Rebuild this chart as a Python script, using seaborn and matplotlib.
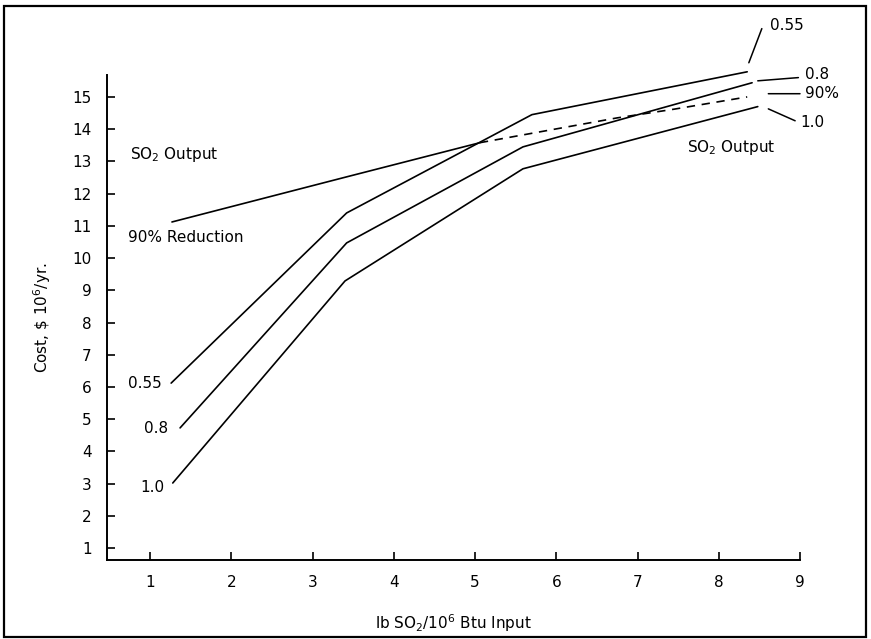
import matplotlib
matplotlib.use("Agg")
import matplotlib.pyplot as plt
import seaborn as sns
from matplotlib.patches import Rectangle


# Curves (x: lb SO2 / 10^6 Btu input, y: cost $10^6/yr)
x_055 = [1.26, 3.42, 5.70, 8.35]
y_055 = [6.12, 11.40, 14.45, 15.78]

x_08 = [1.37, 3.42, 5.59, 8.41]
y_08 = [4.73, 10.47, 13.45, 15.44]

x_10 = [1.28, 3.40, 5.59, 8.48]
y_10 = [3.02, 9.29, 12.77, 14.70]

# 90 % reduction: solid part, then dashed part
x_90 = [1.27, 3.42, 5.06]
y_90 = [11.12, 12.52, 13.58]
x_90d = [5.06, 6.75, 7.45, 8.35]
y_90d = [13.58, 14.35, 14.62, 15.00]

x_ticks = list(range(1, 10))
y_ticks = list(range(1, 16))


sns.set_theme(style="ticks", rc={
    "xtick.direction": "in",
    "ytick.direction": "in",
    "axes.linewidth": 1.4,
    "xtick.major.width": 1.2,
    "ytick.major.width": 1.2,
    "axes.edgecolor": "black",
    "xtick.color": "black",
    "ytick.color": "black",
    "text.color": "black",
    "axes.labelcolor": "black",
})
plt.rcParams["font.family"] = ["DejaVu Sans"]

fig = plt.figure(figsize=(8.71, 6.39), dpi=100)
ax = fig.add_axes([0.1228, 0.1236, 0.7957, 0.759])

lw = 1.2
for xs, ys in [(x_055, y_055), (x_08, y_08), (x_10, y_10), (x_90, y_90)]:
    sns.lineplot(x=xs, y=ys, color="black", lw=lw, ax=ax, sort=False, clip_on=False)
sns.lineplot(x=x_90d, y=y_90d, color="black", lw=lw, ax=ax, sort=False,
             clip_on=False, linestyle=(0, (5, 4)))

ax.set_xlim(0.47, 9.0)
ax.set_ylim(0.63, 15.68)
ax.set_xticks(x_ticks)
ax.set_yticks(y_ticks)
ax.tick_params(axis="both", labelsize=11, length=6, pad=11)
sns.despine(ax=ax)

ax.set_xlabel("lb SO$_2$/10$^6$ Btu Input", fontsize=11, labelpad=16)
ax.set_ylabel("Cost, \\$ 10$^6$/yr.", fontsize=11, labelpad=14)

# left-side curve labels
fs = 11
ax.text(1.15, 6.12, "0.55", ha="right", va="center", fontsize=fs)
ax.text(1.22, 4.70, "0.8", ha="right", va="center", fontsize=fs)
ax.text(1.18, 2.89, "1.0", ha="right", va="center", fontsize=fs)
ax.text(0.75, 13.2, "SO$_2$ Output", ha="left", va="center", fontsize=fs)
ax.text(0.73, 10.63, "90% Reduction", ha="left", va="center", fontsize=fs)
ax.text(7.61, 13.42, "SO$_2$ Output", ha="left", va="center", fontsize=fs)

# right-side labels with leader lines
leader = dict(arrowstyle="-", color="black", lw=1.1, shrinkA=0, shrinkB=0)
ax.annotate("", xy=(8.37, 16.06), xytext=(8.53, 17.12), arrowprops=leader,
            annotation_clip=False)
ax.text(8.63, 17.21, "0.55", ha="left", va="center", fontsize=fs, clip_on=False)
ax.annotate("", xy=(8.48, 15.50), xytext=(8.98, 15.60), arrowprops=leader,
            annotation_clip=False)
ax.text(9.06, 15.69, "0.8", ha="left", va="center", fontsize=fs, clip_on=False)
ax.annotate("", xy=(8.61, 15.10), xytext=(9.0, 15.10), arrowprops=leader,
            annotation_clip=False)
ax.text(9.06, 15.10, "90%", ha="left", va="center", fontsize=fs, clip_on=False)
ax.annotate("", xy=(8.61, 14.63), xytext=(8.94, 14.26), arrowprops=leader,
            annotation_clip=False)
ax.text(9.0, 14.22, "1.0", ha="left", va="center", fontsize=fs, clip_on=False)

# frame around the whole figure
fig.add_artist(Rectangle((0.0046, 0.003), 0.9897, 0.9876, transform=fig.transFigure,
                         fill=False, edgecolor="black", lw=1.6))

fig.savefig("out.png", dpi=100)
